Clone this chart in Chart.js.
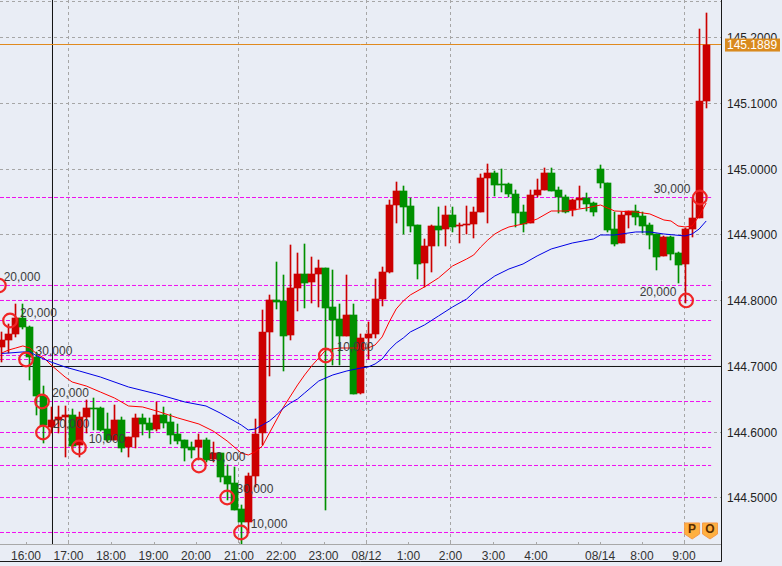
<!DOCTYPE html>
<html><head><meta charset="utf-8">
<style>html,body{margin:0;padding:0;background:#e9edf5;overflow:hidden}canvas{display:block}</style>
<script src="https://cdn.jsdelivr.net/npm/chart.js@4"></script>
</head><body><canvas id="c" width="782" height="566" style="width:782px;height:566px"></canvas>
<script>
const opens=[144.7301,144.7403,144.7494,144.7738,144.7601,144.7144,144.6551,144.6080,144.6186,144.6232,
144.6262,144.5806,144.6232,144.6369,144.6369,144.6049,144.5882,144.6186,144.5776,144.5928,
144.6217,144.6141,144.6049,144.6262,144.6156,144.5973,144.5882,144.5776,144.5776,144.5882,
144.5593,144.5684,144.5335,144.5228,144.4833,144.4635,144.5335,144.5989,144.7525,144.8011,
144.7996,144.7479,144.8194,144.8407,144.8285,144.8407,144.8498,144.7905,144.7722,144.7464,
144.7783,144.6597,144.7433,144.7494,144.8027,144.8437,144.9456,144.9669,144.9441,144.9152,
144.8574,144.8833,144.9137,144.9091,144.9304,144.9137,144.9152,144.9167,144.9350,144.9867,
144.9943,144.9776,144.9776,144.9624,144.9350,144.9183,144.9608,144.9685,144.9943,144.9685,
144.9578,144.9380,144.9532,144.9563,144.9487,145.0004,144.9791,144.9091,144.8878,144.9304,
144.9365,144.9289,144.9152,144.9015,144.8681,144.8970,144.8726,144.8559,144.9091,144.9259,145.1038];
const highs=[144.7525,144.7646,144.7951,144.7951,144.7616,144.7221,144.6703,144.6384,144.6399,144.6399,
144.6354,144.6308,144.6490,144.6521,144.6384,144.6293,144.6414,144.6232,144.5928,144.6278,
144.6278,144.6217,144.6460,144.6384,144.6278,144.6125,144.5882,144.5852,144.5973,144.5912,
144.5852,144.5684,144.5502,144.5471,144.4893,144.5380,144.6201,144.7859,144.8088,144.8589,
144.8392,144.8848,144.8726,144.8863,144.8665,144.8620,144.8498,144.8468,144.7951,144.8392,
144.7951,144.7494,144.7677,144.8331,144.8513,144.9532,144.9806,144.9745,144.9563,144.9152,
144.8939,144.9152,144.9426,144.9441,144.9426,144.9183,144.9441,144.9426,144.9928,145.0080,
144.9974,145.0004,144.9791,144.9685,144.9456,144.9685,144.9852,145.0019,145.0019,144.9730,
144.9608,144.9547,144.9745,144.9639,144.9502,145.0065,144.9791,144.9350,144.9350,144.9365,
144.9456,144.9350,144.9183,144.9015,144.8985,144.8985,144.8742,144.9107,144.9563,145.2133,145.2377];
const lows=[144.7068,144.7205,144.7449,144.7570,144.6795,144.6262,144.5836,144.5989,144.5989,144.5624,
144.5760,144.5624,144.5989,144.6034,144.6019,144.5852,144.5882,144.5700,144.5624,144.5760,
144.5958,144.5912,144.6019,144.6065,144.5821,144.5821,144.5563,144.5608,144.5578,144.5547,
144.5547,144.5243,144.4969,144.4817,144.4300,144.4468,144.5167,144.5806,144.6856,144.7875,
144.6932,144.7403,144.7844,144.7890,144.7966,144.7905,144.4817,144.7023,144.7023,144.7464,
144.6582,144.6582,144.7114,144.7433,144.7920,144.8422,144.9183,144.9015,144.9046,144.8331,
144.8209,144.8437,144.8833,144.8833,144.9046,144.8878,144.9015,144.8954,144.9350,144.9183,
144.9593,144.9654,144.9578,144.9122,144.9046,144.9183,144.9578,144.9685,144.9669,144.9335,
144.9335,144.9289,144.9411,144.9365,144.9289,144.9715,144.9046,144.8833,144.8878,144.9107,
144.9152,144.9031,144.8787,144.8468,144.8681,144.8620,144.8270,144.7966,144.8970,144.9259,145.0932];
const closes=[144.7403,144.7494,144.7738,144.7601,144.7144,144.6551,144.6110,144.6186,144.6232,144.6255,
144.5791,144.6232,144.6369,144.6354,144.6034,144.5882,144.6186,144.5760,144.5928,144.6217,
144.6125,144.6034,144.6262,144.6141,144.5958,144.5867,144.5760,144.5730,144.5882,144.5578,
144.5684,144.5319,144.5213,144.4817,144.4635,144.5335,144.5973,144.7525,144.8011,144.7981,
144.7464,144.8194,144.8407,144.8270,144.8407,144.8498,144.7890,144.7707,144.7464,144.7783,
144.6582,144.7433,144.7494,144.8027,144.8437,144.9456,144.9669,144.9426,144.9137,144.8559,
144.8833,144.9137,144.9076,144.9304,144.9122,144.9152,144.9167,144.9350,144.9867,144.9943,
144.9761,144.9761,144.9624,144.9335,144.9167,144.9608,144.9685,144.9943,144.9669,144.9578,
144.9350,144.9532,144.9563,144.9472,144.9350,144.9791,144.9076,144.8863,144.9304,144.9365,
144.9274,144.9137,144.9000,144.8665,144.8970,144.8711,144.8544,144.9091,144.9259,145.1038,145.1889];

const redIdx=[0,1,2,3,4,5,6,7,9,10,12,14,16,17,18,20,22,25,28,30,32,34,35,36,37,38,39,40,41,42,43,44,45,46,47,48,52,53,54,55,56,57,58,60,62,64,66,67,68,69,70,71,72,74,76,78,80,83,85,86,87,90,92,94,95,96,97,98,99,100];
const redMA=[144.7205,144.7251,144.7281,144.7312,144.7281,144.7190,144.7129,144.7023,144.6840,144.6764,144.6703,144.6612,144.6521,144.6460,144.6399,144.6384,144.6323,144.6217,144.6125,144.6019,144.5867,144.5684,144.5654,144.5700,144.5791,144.5989,144.6186,144.6384,144.6551,144.6719,144.6871,144.7008,144.7129,144.7251,144.7266,144.7281,144.7281,144.7327,144.7449,144.7677,144.7875,144.7996,144.8088,144.8209,144.8346,144.8529,144.8635,144.8696,144.8818,144.8924,144.9015,144.9076,144.9122,144.9167,144.9243,144.9365,144.9365,144.9411,144.9456,144.9411,144.9365,144.9350,144.9320,144.9228,144.9213,144.9137,144.9122,144.9137,144.9289,144.9487];
const blueIdx=[0,1,3,4,5,6,7,9,11,14,18,22,26,29,31,34,35,36,37,38,39,40,41,42,43,45,47,49,51,52,53,54,55,56,57,58,60,62,64,66,68,70,72,74,76,78,81,84,85,87,90,92,94,97,98,99,100];
const blueMA=[144.7198,144.7205,144.7221,144.7221,144.7160,144.7114,144.7068,144.6992,144.6932,144.6840,144.6688,144.6582,144.6460,144.6399,144.6293,144.6110,144.6034,144.6049,144.6110,144.6171,144.6262,144.6369,144.6445,144.6506,144.6597,144.6779,144.6871,144.6932,144.6977,144.6992,144.7038,144.7114,144.7251,144.7357,144.7433,144.7525,144.7631,144.7768,144.7905,144.8027,144.8224,144.8377,144.8483,144.8559,144.8681,144.8787,144.8878,144.8939,144.9000,144.9000,144.9046,144.9046,144.9015,144.8985,144.9015,144.9091,144.9213];

const levelIdx=[-0.4,1.18,3.45,5.72,5.86,10.97,28,32,33.97,46,97.15,99.1];
const levelPrices=[144.8232,144.7699,144.7106,144.6467,144.5996,144.5768,144.5494,144.5007,144.4475,144.7167,144.8004,144.9570];
const labelTexts=["20,000","20,000","30,000","20,000","20,000","10,000","10,000","30,000","10,000","10,000","30,000","20,000"];
const labelIdx=[2.88,5.22,7.42,9.77,9.84,14.95,32,35.95,37.94,50.15,95.15,93.16];
const labelPrices=[144.8346,144.7798,144.7221,144.6582,144.6110,144.5882,144.5608,144.5122,144.4589,144.7281,144.9685,144.8118];

const timeTickIdx=[3.45,9.48,15.51,21.55,27.58,33.68,39.65,45.68,51.78,57.74,63.7,69.8,75.84,81.8,84.93,90.89,96.85];
const timeLabels=["16:00","17:00","18:00","19:00","20:00","21:00","22:00","23:00","08/12","1:00","2:00","3:00","4:00","","08/14","8:00","9:00"];
const timeGridLabels=["17:00","21:00","08/12","2:00","9:00"];
const priceTicks=[144.5,144.6,144.7,144.8,144.9,145.0,145.1,145.2,145.2555];
const lastPrice=145.1889, lastLineLevel=145.1897, crossPrice=144.7, crossIdx=7.21;
const markerIdx=[98,100.54], markerLetters=["P","O"], markerPrice=144.4498;

const X_MIN=-0.2413, X_MAX=102.1;
const UP="#cc0000", DOWN="#009000";
const colors=opens.map((o,i)=>closes[i]>=o?UP:DOWN);
const hline=(y,color,order,dash,x2)=>({type:'line',data:[{x:X_MIN,y},{x:x2===undefined?X_MAX:x2,y}],borderColor:color,borderWidth:1,borderDash:dash||[],pointRadius:0,order});

const datasets=[
  hline(crossPrice,"#111111",20),
  {type:'line',data:[{x:crossIdx,y:144.43},{x:crossIdx,y:145.2574}],borderColor:"#111111",borderWidth:1,pointRadius:0,order:20},
  hline(lastLineLevel,"#e08a1e",19),
  ...levelPrices.map(p=>hline(p,"#f010f0",18,[4,2],100.7)),
  {type:'bar',data:opens.map((o,i)=>({x:i,y:[lows[i],highs[i]]})),backgroundColor:colors,barThickness:1,grouped:false,order:10},
  {type:'bar',data:opens.map((o,i)=>({x:i,y:[o,closes[i]]})),backgroundColor:colors,barThickness:7,grouped:false,order:9},
  {type:'line',data:redIdx.map((x,i)=>({x,y:redMA[i]})),borderColor:"#ff0000",borderWidth:1,pointRadius:0,tension:0,order:5},
  {type:'line',data:blueIdx.map((x,i)=>({x,y:blueMA[i]})),borderColor:"#0000e6",borderWidth:1,pointRadius:0,tension:0,order:4},
  {type:'scatter',data:levelIdx.map((x,i)=>({x,y:levelPrices[i]})),showLine:false,pointStyle:'circle',pointRadius:6.8,pointBorderWidth:2.2,pointBorderColor:"#f02626",pointBackgroundColor:"rgba(0,0,0,0)",order:3}
];

const deco={id:'deco',
 beforeDraw(ch){const c=ch.ctx;c.save();c.fillStyle="#e9edf5";c.fillRect(0,0,782,566);c.restore();},
 beforeDatasetsDraw(ch){
  ch.getSortedVisibleDatasetMetas().filter(m=>m.type==='bar').forEach(m=>m.data.forEach(el=>{
    el.x=Math.floor(el.x)+.5;
    const a=Math.round(el.y),b=Math.round(el.base);
    el.y=a;el.base=a===b?a+1:b;
  }));
 },
 afterDatasetsDraw(ch){
  const c=ch.ctx,xs=ch.scales.x,ys=ch.scales.y;
  c.save();
  c.font="12px 'Liberation Sans'";c.fillStyle="#3c3c3c";c.textAlign="center";c.textBaseline="middle";
  labelTexts.forEach((t,i)=>c.fillText(t,xs.getPixelForValue(labelIdx[i]),ys.getPixelForValue(labelPrices[i])));
  markerIdx.forEach((m,i)=>{
    const x=xs.getPixelForValue(m),y=ys.getPixelForValue(markerPrice);
    c.beginPath();c.moveTo(x-7.5,y-8);c.lineTo(x+7.5,y-8);c.lineTo(x+7.5,y+3);c.lineTo(x,y+8);c.lineTo(x-7.5,y+3);c.closePath();
    c.fillStyle="#ffb040";c.fill();c.strokeStyle="#f59a4a";c.lineWidth=1;c.stroke();
    c.fillStyle="#5a2d00";c.font="bold 12px 'Liberation Sans'";c.fillText(markerLetters[i],x,y-1.5);
  });
  c.strokeStyle="#a8a8a8";c.lineWidth=1;c.beginPath();c.moveTo(0,544.5);c.lineTo(721,544.5);
  xs.ticks.forEach(t=>{const p=Math.round(xs.getPixelForValue(t.value))+.5;c.moveTo(p,542);c.lineTo(p,544);});c.stroke();
  c.strokeStyle="#1a1a1a";c.beginPath();c.moveTo(721.5,0);c.lineTo(721.5,561.5);c.lineTo(0,561.5);c.stroke();
  const ly=ys.getPixelForValue(lastPrice);
  c.fillStyle="#d98a1e";c.fillRect(725,ly-6.5,55,13);
  c.fillStyle="#ffffff";c.font="12px 'Liberation Sans'";c.textAlign="left";c.textBaseline="middle";
  c.fillText(lastPrice.toFixed(4),727,ly+0.5);
  c.restore();
 }};
const noPad=s=>{s.paddingLeft=0;s.paddingRight=0;s.paddingTop=0;s.paddingBottom=0;};

const cv=document.getElementById('c');
cv.getContext('2d',{alpha:false});
new Chart(cv,{data:{datasets},plugins:[deco],options:{
  responsive:false,animation:false,devicePixelRatio:1,
  layout:{padding:0,autoPadding:false},
  plugins:{legend:{display:false},tooltip:{enabled:false}},
  scales:{
   x:{type:'linear',min:X_MIN,max:X_MAX,offset:false,
     afterBuildTicks(s){s.ticks=timeTickIdx.map(value=>({value}));},
     afterFit(s){s.height=22;noPad(s);},
     border:{display:false,dash:[3,3]},
     grid:{offset:false,drawTicks:false,color(ctx){const i=timeTickIdx.indexOf(ctx.tick&&ctx.tick.value);return timeGridLabels.includes(timeLabels[i])?"#a6a6a6":"rgba(0,0,0,0)";}},
     ticks:{autoSkip:false,maxRotation:0,minRotation:0,padding:5,color:"#333333",font:{family:"'Liberation Sans'",size:12},
       callback(v,i){return timeLabels[i];}}},
   y:{type:'linear',position:'right',min:144.43,max:145.2574,
     afterBuildTicks(s){s.ticks=priceTicks.map(value=>({value}));},
     afterFit(s){s.width=61;noPad(s);},
     border:{display:false,dash:[3,3]},
     grid:{drawTicks:false,color:"#a6a6a6"},
     ticks:{padding:6,labelOffset:1,color:"#222222",font:{family:"'Liberation Sans'",size:12},
       callback(v){return v>145.25?"":v.toFixed(4);}}}
  }
}});
</script></body></html>
